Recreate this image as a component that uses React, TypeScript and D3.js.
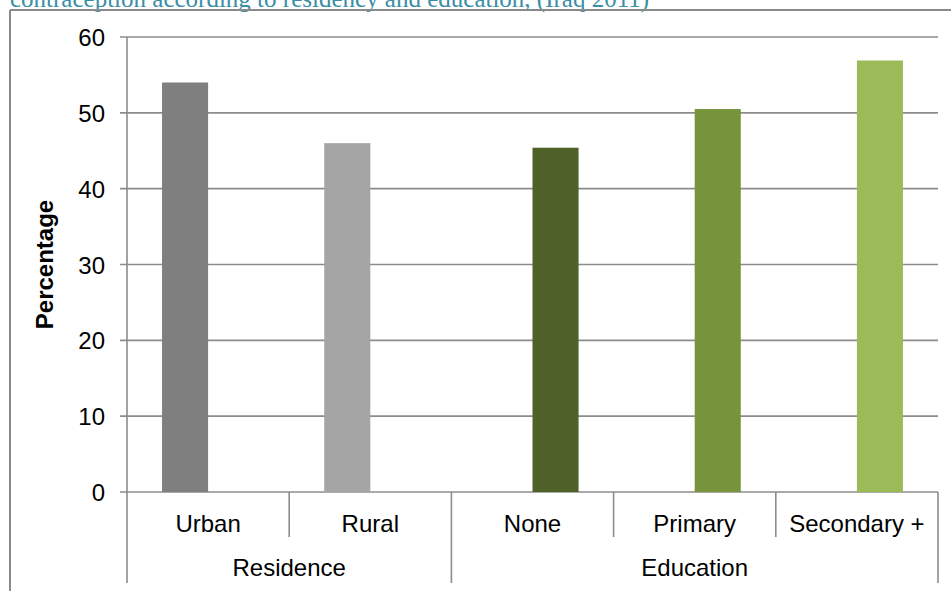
import React from "react";
import * as d3 from "d3";

const categories = ["Urban", "Rural", "None", "Primary", "Secondary +"];
const categoryGroup = ["Residence", "Residence", "Education", "Education", "Education"];
const groups = ["Residence", "Education"];
const values = [54.0, 46.0, 45.4, 50.5, 56.9];
const barColors = ["#7f7f7f", "#a5a5a5", "#4f6228", "#77933c", "#9bbb59"];
const yTicks = [0, 10, 20, 30, 40, 50, 60];
const titleText = "contraception according to residency and education, (Iraq 2011)";
const yLabel = "Percentage";

const W = 951;
const H = 591;
const left = 127;
const right = 938;
const top = 37;
const bottom = 492;

export default function App() {
  const x = d3.scaleBand<string>().domain(categories).range([left, right]).padding(0);
  const bw = x.bandwidth();
  const inner = d3
    .scaleBand<string>()
    .domain(groups)
    .range([0.216 * bw, 0.784 * bw])
    .padding(0);
  const y = d3.scaleLinear().domain([0, 60]).range([bottom, top]);
  const grid = "#8c8c8c";
  const font = "'Liberation Sans', Arial, sans-serif";
  const fs = 24;

  const spans = groups.map((g) => {
    const cats = categories.filter((_, i) => categoryGroup[i] === g);
    const x0 = x(cats[0])!;
    const x1 = x(cats[cats.length - 1])! + bw;
    return { g, x0, x1 };
  });

  return (
    <svg
      width={W}
      height={H}
      style={{ position: "absolute", left: 0, top: 0, background: "#fff" }}
    >
      <text
        x={10}
        y={7}
        fontFamily="'Liberation Serif', 'Times New Roman', serif"
        fontSize={25}
        fill="#3a8fa6"
      >
        {titleText}
      </text>
      <line x1={10} y1={10} x2={W} y2={10} stroke="#8a8a8a" strokeWidth={2} />
      <line x1={10} y1={10} x2={10} y2={H} stroke="#8a8a8a" strokeWidth={2} />

      {yTicks.map((t) => (
        <g key={t}>
          <line x1={left - 7} x2={right} y1={y(t)} y2={y(t)} stroke={grid} strokeWidth={1.6} />
          <text
            x={105}
            y={y(t) + 9}
            textAnchor="end"
            fontFamily={font}
            fontSize={fs}
            fill="#000"
          >
            {t}
          </text>
        </g>
      ))}

      {categories.map((c, i) => (
        <rect
          key={c}
          x={x(c)! + inner(categoryGroup[i])!}
          y={y(values[i])}
          width={inner.bandwidth()}
          height={y(0) - y(values[i])}
          fill={barColors[i]}
        />
      ))}

      <line x1={left} x2={left} y1={top} y2={bottom} stroke={grid} strokeWidth={1.6} />

      {categories.map((c, i) => {
        const xx = x(c)!;
        const isGroupStart = i === 0 || categoryGroup[i] !== categoryGroup[i - 1];
        return (
          <line
            key={"d" + c}
            x1={xx}
            x2={xx}
            y1={bottom}
            y2={isGroupStart ? 583 : 537}
            stroke={grid}
            strokeWidth={1.6}
          />
        );
      })}
      <line x1={right} x2={right} y1={bottom} y2={583} stroke={grid} strokeWidth={1.6} />

      {categories.map((c) => (
        <text
          key={"l" + c}
          x={x(c)! + bw / 2}
          y={531.5}
          textAnchor="middle"
          fontFamily={font}
          fontSize={fs}
          fill="#000"
        >
          {c}
        </text>
      ))}
      {spans.map((s) => (
        <text
          key={"g" + s.g}
          x={(s.x0 + s.x1) / 2}
          y={575.5}
          textAnchor="middle"
          fontFamily={font}
          fontSize={fs}
          fill="#000"
        >
          {s.g}
        </text>
      ))}

      <text
        transform={`translate(53, ${(top + bottom) / 2}) rotate(-90)`}
        textAnchor="middle"
        fontFamily={font}
        fontSize={fs}
        fontWeight="bold"
        fill="#000"
      >
        {yLabel}
      </text>
    </svg>
  );
}
